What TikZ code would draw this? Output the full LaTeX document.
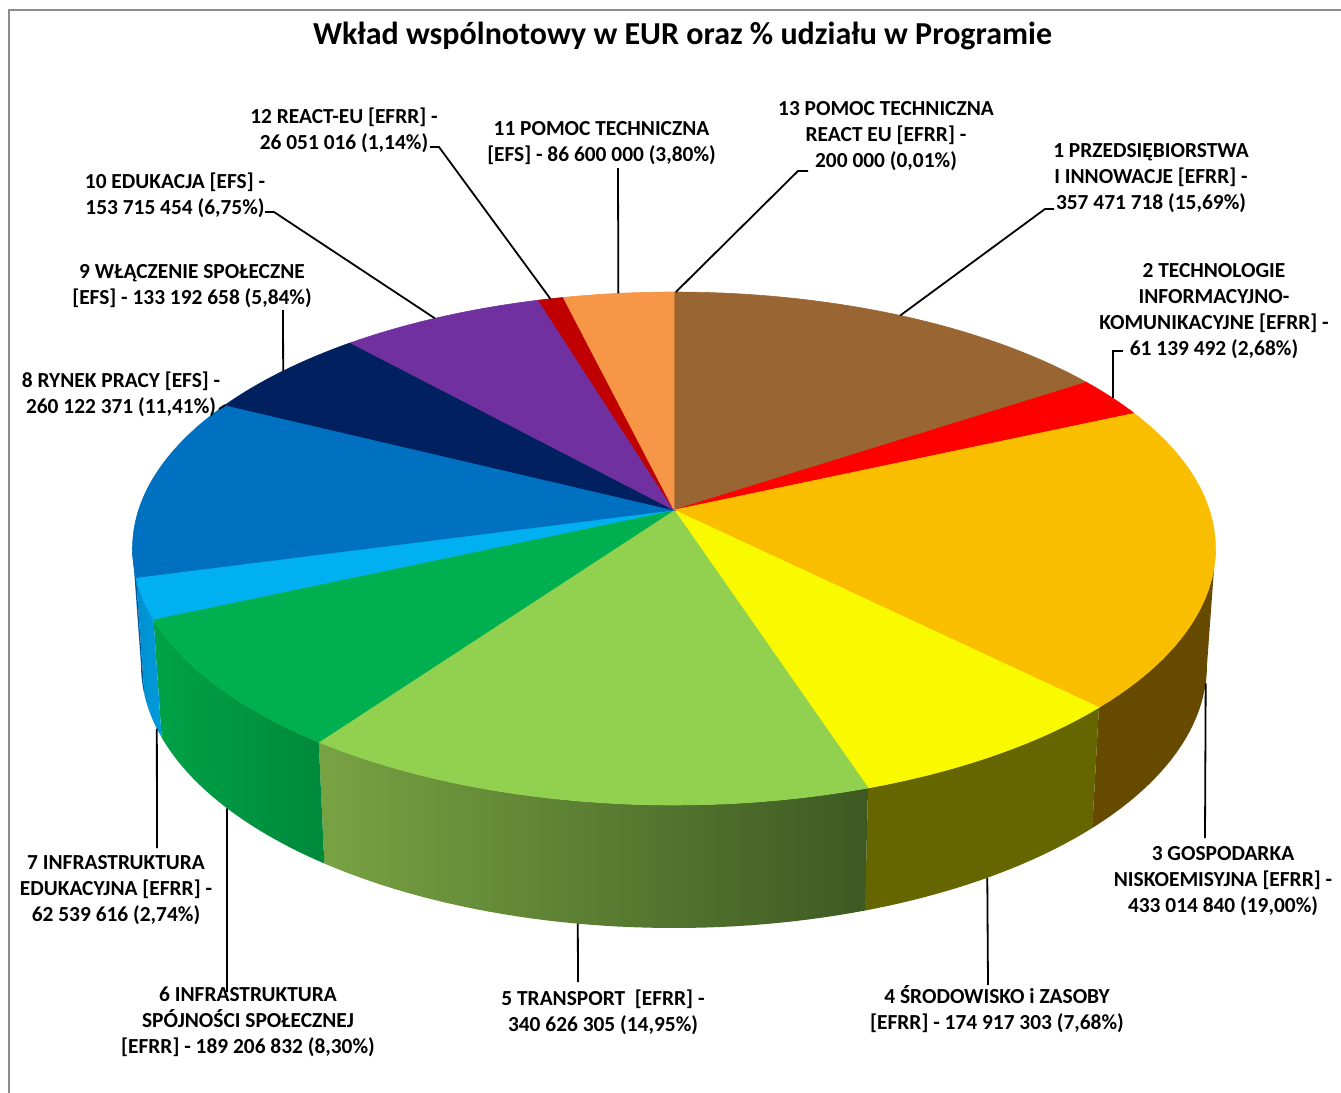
\documentclass[tikz,border=0pt]{standalone}
\usepackage{fontspec}
\setmainfont{Carlito}
\usetikzlibrary{positioning}

\definecolor{c1}{HTML}{996633}
\definecolor{c2}{HTML}{FF0000}
\definecolor{c3}{HTML}{FABE00}
\definecolor{c4}{HTML}{F9F900}
\definecolor{c5}{HTML}{92D050}
\definecolor{c6}{HTML}{00B050}
\definecolor{c7}{HTML}{00B0F0}
\definecolor{c8}{HTML}{0070C0}
\definecolor{c9}{HTML}{002060}
\definecolor{c10}{HTML}{7030A0}
\definecolor{c11}{HTML}{F79646}
\definecolor{c12}{HTML}{C00000}
\definecolor{s3}{HTML}{654A00}
\definecolor{s4}{HTML}{666600}
\definecolor{s5l}{HTML}{78A343}
\definecolor{s5r}{HTML}{3D5922}
\definecolor{s6l}{HTML}{00A247}
\definecolor{s6r}{HTML}{00893B}
\definecolor{s7l}{HTML}{008FCF}
\definecolor{s7r}{HTML}{009BDB}
\definecolor{s8}{HTML}{005C9E}
\definecolor{framegray}{HTML}{8C8C8C}

\begin{document}
\begin{tikzpicture}[
		x=0.5pt, y=-0.5pt,
		declare function={tx(\t)=674+541.5*cos(\t); ty(\t)=548.5-256.5*sin(\t);
			bx(\t)=674+533*cos(\t); by(\t)=665-263*sin(\t);},
		lab/.style={align=center, inner sep=0pt, font=\fontsize{10.7}{13}\selectfont\bfseries},
		leader/.style={draw=black, line width=0.9pt},
		frame/.style={draw=framegray, line width=1pt}
	]

	\useasboundingbox (0,0) rectangle (1341,1093);
	\draw[frame] (9,1093) -- (9,10) -- (1341,10);

	\node[font=\fontsize{16}{19}\selectfont\bfseries] (title) at (682.5,36) {Wkład wspólnotowy w EUR oraz \% udziału w Programie};

	% side of the pie
	\foreach \a/\b/\l/\r in {-38.3/0/s3/s3, -69/-38.3/s4/s4, -131/-69/s5l/s5r, -164/-131/s6l/s6r, -173.5/-164/s7l/s7r, -180/-173.5/s8/s8}
		\shade[left color=\l, right color=\r] plot[domain=\a:\b, samples=40] ({tx(\x)},{ty(\x)}) -- plot[domain=\b:\a, samples=40] ({bx(\x)},{by(\x)}) -- cycle;

	% top of the pie
	\coordinate (apex) at (674,510);
	\foreach \a/\b/\c in {90/40.4/c1, 40.4/31.8/c2, 31.8/-38.3/c3, -38.3/-69/c4, -69/-131/c5, -131/-164/c6, -164/-173.5/c7, -173.5/-214/c8, -214/-233.3/c9, -233.3/-255.5/c10, -255.5/-258.2/c12, -258.2/-270/c11}
		\fill[\c, draw=\c, line width=0.3pt] (apex) -- plot[domain=\a:\b, samples=40] ({tx(\x)},{ty(\x)}) -- cycle;

	\node[lab] (lab1) at (1151,178) {1 PRZEDSIĘBIORSTWA\\I INNOWACJE [EFRR] -\\357 471 718 (15,69\%)};
	\node[lab] (lab2) at (1214,311) {2 TECHNOLOGIE\\INFORMACYJNO-\\KOMUNIKACYJNE [EFRR] -\\61 139 492 (2,68\%)};
	\node[lab] (lab3) at (1223,881) {3 GOSPODARKA\\NISKOEMISYJNA [EFRR] -\\433 014 840 (19,00\%)};
	\node[lab] (lab4) at (997,1009) {4 ŚRODOWISKO i ZASOBY\\{[EFRR]} - 174 917 303 (7,68\%)};
	\node[lab] (lab5) at (603,1012) {5 TRANSPORT\ \ [EFRR] -\\340 626 305 (14,95\%)};
	\node[lab] (lab6) at (248,1022) {6 INFRASTRUKTURA\\SPÓJNOŚCI SPOŁECZNEJ\\{[EFRR]} - 189 206 832 (8,30\%)};
	\node[lab] (lab7) at (116,890) {7 INFRASTRUKTURA\\EDUKACYJNA [EFRR] -\\62 539 616 (2,74\%)};
	\node[lab] (lab8) at (121,394) {8 RYNEK PRACY [EFS] -\\260 122 371 (11,41\%)};
	\node[lab] (lab9) at (192,286) {9 WŁĄCZENIE SPOŁECZNE\\{[EFS]} - 133 192 658 (5,84\%)};
	\node[lab] (lab10) at (175,195.5) {10 EDUKACJA [EFS] -\\153 715 454 (6,75\%)};
	\node[lab] (lab12) at (344,130) {12 REACT-EU [EFRR] -\\26 051 016 (1,14\%)};
	\node[lab] (lab11) at (601.5,143) {11 POMOC TECHNICZNA\\{[EFS]} - 86 600 000 (3,80\%)};
	\node[lab] (lab13) at (886,136) {13 POMOC TECHNICZNA\\REACT EU [EFRR] -\\200 000 (0,01\%)};

	% leader ends on the pie
	\coordinate (p1) at ({tx(65.3)},{ty(65.3)});
	\coordinate (p2) at ({tx(35.8)},{ty(35.8)});
	\coordinate (p3) at ({bx(-4)},{by(-4)});
	\coordinate (p4) at ({bx(-54)},{by(-54)});
	\coordinate (p5) at ({bx(-100.4)},{by(-100.4)});
	\coordinate (p6) at ({bx(-147)},{by(-147)});
	\coordinate (p7) at ({bx(-166)},{by(-166)});
	\coordinate (p8) at ({tx(146)},{ty(146)});
	\coordinate (p9) at ({tx(136.2)},{ty(136.2)});
	\coordinate (p10) at ({tx(116.2)},{ty(116.2)});
	\coordinate (p11) at ({tx(95.9)},{ty(95.9)});
	\coordinate (p12) at ({tx(103.2)},{ty(103.2)});
	\coordinate (p13) at ({tx(89.8)},{ty(89.8)});
	% leader ends at the labels
	\coordinate (k1) at (1054,209);
	\coordinate (k2) at (1123,351);
	\coordinate (k3) at (1205,838);
	\coordinate (k4) at (988,985);
	\coordinate (k5) at (578,982);
	\coordinate (k6) at (227,992);
	\coordinate (k7) at (157,848);
	\coordinate (k8) at (219,409);
	\coordinate (k9) at (283,310);
	\coordinate (k10) at (265,212);
	\coordinate (k11) at (618,168);
	\coordinate (k12) at (430,147);
	\coordinate (k13) at (808,171);

	\foreach \i in {3,4,5,6,7,8,9,11}
		\draw[leader] (p\i) -- (k\i);
	\draw[leader] (p2) |- (k2);
	\draw[leader] (p1) -- ([xshift=-4.5pt]k1) -- (k1);
	\draw[leader] (p13) -- ([xshift=-5pt]k13) -- (k13);
	\foreach \i in {10,12}
		\draw[leader] (p\i) -- ([xshift=4.5pt]k\i) -- (k\i);

\end{tikzpicture}
\end{document}
